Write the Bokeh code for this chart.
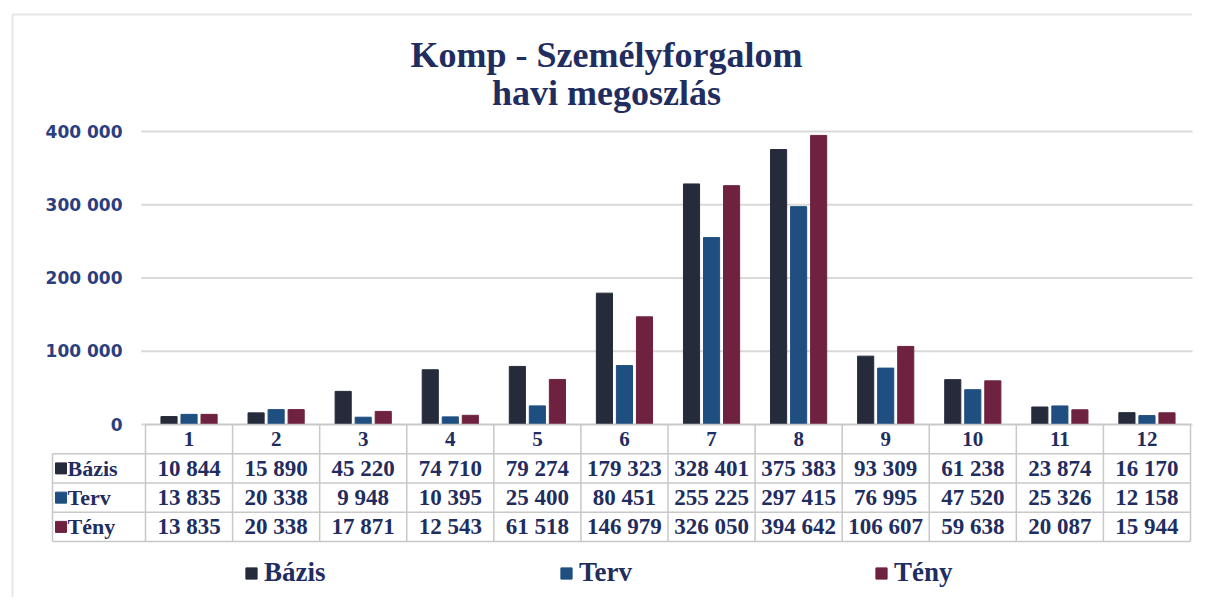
from bokeh.plotting import figure
from bokeh.models import (ColumnDataSource, FixedTicker, Label, Legend, LegendItem,
                          Range1d, LinearAxis)
from bokeh.transform import dodge
from bokeh.core.properties import value
from bokeh.embed import file_html
from bokeh.resources import INLINE

# ---------------- data ----------------
months = ["1", "2", "3", "4", "5", "6", "7", "8", "9", "10", "11", "12"]
bazis = [10844, 15890, 45220, 74710, 79274, 179323, 328401, 375383, 93309, 61238, 23874, 16170]
terv = [13835, 20338, 9948, 10395, 25400, 80451, 255225, 297415, 76995, 47520, 25326, 12158]
teny = [13835, 20338, 17871, 12543, 61518, 146979, 326050, 394642, 106607, 59638, 20087, 15944]
series_names = ["Bázis", "Terv", "Tény"]
y_ticks = [0, 100000, 200000, 300000, 400000]
title_lines = ["Komp - Személyforgalom", "havi megoszlás"]

# ---------------- style / layout ----------------
colors = ["#262b3b", "#1f4f80", "#6e2240"]
navy = "#1f2d60"
serif = value("Liberation Serif")
W, H = 1202, 597
FRAME_L, FRAME_R, FRAME_T, FRAME_B = 10, 1192, 0, 597
BARS_L, BARS_R = 145, 1190            # pixel extent of the 12 month columns
ZERO_Y, TOP_Y = 424, 131              # pixel rows of 0 and 400 000
TABLE_B = 541                          # bottom of the data table
LABEL_COL_PX = 93                      # width of the series-name column
TITLE_CX = 606                         # title centre (px)
TITLE_Y = [54, 92]                     # title line positions (px from top)
BORDER_X, BORDER_Y = 12, 14            # faint outer chart border

col_px = (BARS_R - BARS_L) / 12.0
x_start = 0.5 - (BARS_L - FRAME_L) / col_px
x_end = 12.5 + (FRAME_R - BARS_R) / col_px
lab_left = 0.5 - LABEL_COL_PX / col_px

v_per_px = 400000 / (ZERO_Y - TOP_Y)
y_end = 400000 + (TOP_Y - FRAME_T) * v_per_px
y_start = -(FRAME_B - ZERO_Y) * v_per_px

row_px = (TABLE_B - ZERO_Y) / 4.0
t_end = 4 + (ZERO_Y - FRAME_T) / row_px
t_start = 4 - (FRAME_B - ZERO_Y) / row_px


def px_x(px):
    return x_start + (px - FRAME_L) / col_px


def px_y(py):
    return (ZERO_Y - py) * v_per_px


def fmt(v):
    return f"{v:,}".replace(",", " ")


xs = list(range(1, len(months) + 1))
series = [bazis, terv, teny]
n = len(months)

p = figure(width=W, height=H, x_range=Range1d(x_start, x_end), y_range=Range1d(y_start, y_end),
           x_axis_type=None, y_axis_type=None, output_backend="svg", toolbar_location=None,
           min_border_left=FRAME_L, min_border_right=W - FRAME_R, min_border_top=FRAME_T,
           min_border_bottom=0)
p.outline_line_color = None
p.background_fill_color = "white"
p.grid.visible = False
p.extra_y_ranges = {"tbl": Range1d(t_start, t_end)}

# faint outer border of the chart
p.segment(x0=[px_x(BORDER_X), px_x(BORDER_X)], y0=[px_y(BORDER_Y), px_y(BORDER_Y)],
          x1=[x_end, px_x(BORDER_X)], y1=[px_y(BORDER_Y), y_start],
          line_color="#e6e6e6", line_width=2)

# y axis (labels drawn to the right of the axis line, inside the left margin)
yaxis = LinearAxis(ticker=FixedTicker(ticks=y_ticks))
yaxis.major_label_overrides = {v: fmt(v) for v in y_ticks}
yaxis.axis_line_color = None
yaxis.major_tick_line_color = None
yaxis.minor_tick_line_color = None
yaxis.major_tick_out = 0
yaxis.major_tick_in = 0
yaxis.major_label_standoff = -(122 - FRAME_L)
yaxis.major_label_text_color = "#2b3f7e"
yaxis.major_label_text_font = "DejaVu Sans"
yaxis.major_label_text_font_style = "bold"
yaxis.major_label_text_font_size = "17px"
p.add_layout(yaxis, "left")

# grid lines
p.segment(x0=[0.45] * len(y_ticks), y0=y_ticks, x1=[12.56] * len(y_ticks), y1=y_ticks,
          line_color="#d9d9d9", line_width=2)

# bars
src = ColumnDataSource(dict(x=xs, b=bazis, t=terv, f=teny))
offsets = [-0.23, 0.0, 0.23]
for key, col, off in zip(["b", "t", "f"], colors, offsets):
    p.vbar(x=dodge("x", off, range=p.x_range), top=key, width=0.185, source=src,
           fill_color=col, line_color=col)

# title (two lines)
for line, ty in zip(title_lines, TITLE_Y):
    p.add_layout(Label(x=TITLE_CX - FRAME_L, y=FRAME_B - ty, x_units="screen",
                       y_units="screen", text=line, text_align="center",
                       text_baseline="middle", text_font="Liberation Serif",
                       text_font_style="bold", text_font_size="36px", text_color=navy))

# ---------------- data table ----------------
grid_col = "#c8c8c8"
hx0 = [0.5] + [lab_left] * 4
hy = [4, 3, 2, 1, 0]
p.segment(x0=hx0, y0=hy, x1=[n + 0.5] * 5, y1=hy, line_color=grid_col, line_width=1.5,
          y_range_name="tbl")
vx = [i + 0.5 for i in range(0, n + 1)]
p.segment(x0=vx, y0=[0] * len(vx), x1=vx, y1=[4] * len(vx), line_color=grid_col,
          line_width=1.5, y_range_name="tbl")
p.segment(x0=[lab_left], y0=[0], x1=[lab_left], y1=[3], line_color=grid_col, line_width=1.5,
          y_range_name="tbl")

p.text(x=xs, y=[3.5] * n, text=months, text_align="center", text_baseline="middle",
       text_font=serif, text_font_style="bold", text_font_size="21px", text_color=navy,
       y_range_name="tbl")

legend_items = []
for r_i, (name, vals, col) in enumerate(zip(series_names, series, colors)):
    yc = 2.5 - r_i
    p.text(x=xs, y=[yc] * n, text=[fmt(v) for v in vals], text_align="center",
           text_baseline="middle", text_font=serif, text_font_style="bold",
           text_font_size="23px", text_color=navy, y_range_name="tbl")
    key = p.rect(x=[lab_left + 8.5 / col_px], y=[yc], width=11, height=11,
                 width_units="screen", height_units="screen", fill_color=col, line_color=col,
                 y_range_name="tbl")
    p.text(x=[lab_left + 15 / col_px], y=[yc], text=[name], text_align="left",
           text_baseline="middle", text_font=serif, text_font_style="bold",
           text_font_size="22px", text_color=navy, y_range_name="tbl")
    legend_items.append(LegendItem(label=name, renderers=[key]))

legend = Legend(items=legend_items, orientation="horizontal", location=(244 - FRAME_L, 9),
                padding=0, margin=0, spacing=0, glyph_width=14, glyph_height=14,
                label_standoff=6, label_width=295, label_height=26,
                label_text_font="Liberation Serif", label_text_font_style="bold",
                label_text_font_size="27px", label_text_color=navy,
                border_line_color=None, background_fill_alpha=0)
p.add_layout(legend)

open("out.html", "w").write(file_html(p, INLINE))
